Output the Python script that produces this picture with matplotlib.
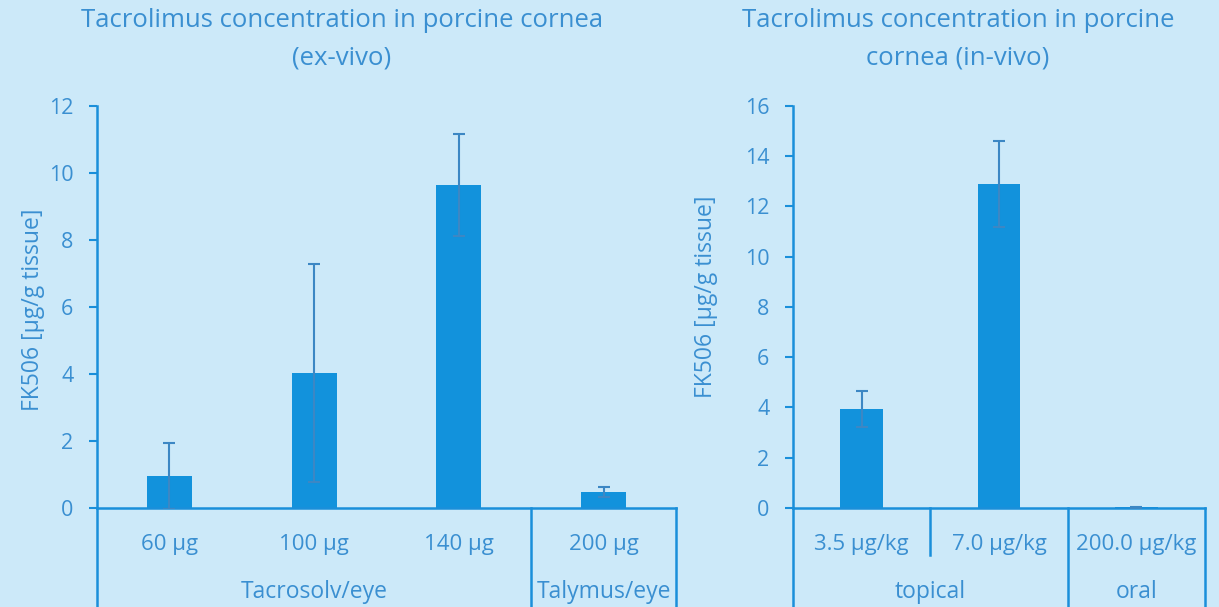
import numpy as np
import matplotlib.pyplot as plt
import matplotlib.transforms as mtransforms

# ex-vivo data
ex_labels = ["60 µg", "100 µg", "140 µg", "200 µg"]
ex_values = [0.96, 4.03, 9.64, 0.48]
ex_errors = [0.98, 3.25, 1.52, 0.15]
ex_groups = ["Tacrosolv/eye", "Talymus/eye"]
ex_group_sizes = [3, 1]

# in-vivo data
in_labels = ["3.5 µg/kg", "7.0 µg/kg", "200.0 µg/kg"]
in_values = [3.94, 12.9, 0.02]
in_errors = [0.72, 1.7, 0.01]
in_groups = ["topical", "oral"]
in_group_sizes = [2, 1]

BG = "#cce9f9"
BAR = "#1292dc"
LINE = "#1a8fda"
TEXT = "#3a8fd1"
ERR = "#3c87c4"

plt.rcParams['font.family'] = ['Open Sans', 'DejaVu Sans']

fig = plt.figure(figsize=(12.19, 6.07), dpi=100, facecolor=BG)


def draw(ax, labels, values, errors, groups, sizes, ymax, ystep, inner_seps, ylab_xy):
    n = len(labels)
    x = np.arange(n)
    ax.set_facecolor(BG)
    ax.bar(x, values, width=0.31, color=BAR, zorder=2)
    ax.errorbar(x, values, yerr=errors, fmt='none', ecolor=ERR, elinewidth=1.5,
                capsize=4.5, capthick=1.5, zorder=3)
    ax.set_xlim(-0.5, n - 0.5)
    ax.set_ylim(0, ymax)
    ax.set_yticks(np.arange(0, ymax + 0.1, ystep))
    ax.set_xticks([])
    for s in ["top", "right"]:
        ax.spines[s].set_visible(False)
    for s in ["left", "bottom"]:
        ax.spines[s].set_color(LINE)
        ax.spines[s].set_linewidth(1.8)
    ax.tick_params(axis='y', colors=LINE, labelcolor=TEXT, labelsize=15.5,
                   direction='out', length=6, width=1.5, pad=11)
    ax.text(ylab_xy[0], ylab_xy[1], "FK506 [µg/g tissue]", transform=ax.transAxes,
            rotation=90, ha='center', va='center', color=TEXT, fontsize=16.5)

    trans = mtransforms.blended_transform_factory(ax.transData, ax.transAxes)
    # full-height separators at group edges
    edges = [-0.5] + list(np.cumsum(sizes) - 0.5)
    for e in edges:
        ax.plot([e, e], [0, -0.25], color=LINE, lw=1.8, transform=trans, clip_on=False)
    for e in inner_seps:
        ax.plot([e, e], [0, -0.117], color=LINE, lw=1.8, transform=trans, clip_on=False)
    for i, lab in enumerate(labels):
        ax.text(i, -0.092, lab, transform=trans, ha='center', va='center',
                color=TEXT, fontsize=16)
    start = 0
    for g, sz in zip(groups, sizes):
        c = start + (sz - 1) / 2
        ax.text(c, -0.209, g, transform=trans, ha='center', va='center',
                color=TEXT, fontsize=16.5)
        start += sz


ax1 = fig.add_axes([0.0796, 0.1631, 0.475, 0.6623])
draw(ax1, ex_labels, ex_values, ex_errors, ex_groups, ex_group_sizes, 12, 2,
     [], (-0.1105, 0.4925))

ax2 = fig.add_axes([0.6505, 0.1631, 0.338, 0.6623])
draw(ax2, in_labels, in_values, in_errors, in_groups, in_group_sizes, 16, 2,
     [0.5], (-0.211, 0.525))

fig.text(342 / 1219, 1 - 39 / 607, "Tacrolimus concentration in porcine cornea\n(ex-vivo)",
         ha='center', va='center', color=TEXT, fontsize=18.5, linespacing=1.65)
fig.text(958 / 1219, 1 - 39 / 607, "Tacrolimus concentration in porcine\ncornea (in-vivo)",
         ha='center', va='center', color=TEXT, fontsize=18.5, linespacing=1.65)

fig.savefig("out.png", dpi=100, facecolor=BG)
